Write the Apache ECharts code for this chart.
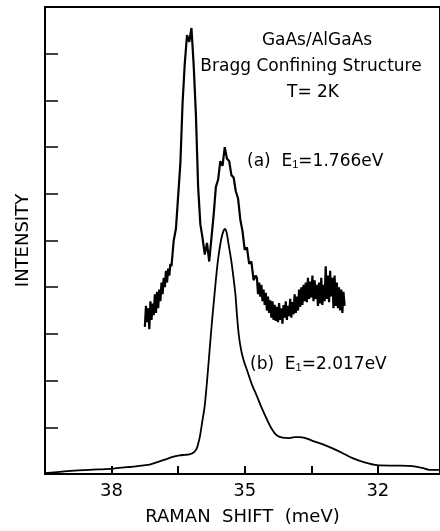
<!DOCTYPE html>
<html>
<head>
<meta charset="utf-8">
<script src="https://cdn.jsdelivr.net/npm/echarts@6/dist/echarts.min.js"></script>
<style>
  html, body { margin: 0; padding: 0; background: #fff; }
  #chart { width: 440px; height: 531px; }
</style>
</head>
<body>
<div id="chart"></div>
<script>
// 坐标轴刻度（meV）
const xTicks = [38, 36.5, 35, 33.5, 32];
const xLabels = [38, 35, 32];

// (a) E1 = 1.766 eV —— 噪声较大的谱线 [拉曼位移, 强度]
const shiftA = [
  37.250, 37.225, 37.200, 37.175, 37.150, 37.125, 37.100, 37.075, 37.050, 37.025,
  37.000, 36.975, 36.950, 36.925, 36.900, 36.875, 36.850, 36.825, 36.800, 36.775,
  36.750, 36.725, 36.700, 36.675, 36.650,
  36.60, 36.55, 36.50, 36.45, 36.40, 36.35, 36.30, 36.25, 36.20, 36.15,
  36.10, 36.05, 36.00, 35.95, 35.90, 35.85, 35.80, 35.75, 35.70, 35.65,
  35.60, 35.55, 35.50, 35.45, 35.40, 35.35, 35.30, 35.25, 35.20, 35.15,
  35.10, 35.05, 35.00, 34.95, 34.90, 34.85, 34.80, 34.75,
  34.725, 34.700, 34.675, 34.650, 34.625, 34.600, 34.575, 34.550, 34.525, 34.500,
  34.475, 34.450, 34.425, 34.400, 34.375, 34.350, 34.325, 34.300, 34.275, 34.250,
  34.225, 34.200, 34.175, 34.150, 34.125, 34.100, 34.075, 34.050, 34.025, 34.000,
  33.975, 33.950, 33.925, 33.900, 33.875, 33.850, 33.825, 33.800, 33.775, 33.750,
  33.725, 33.700, 33.675, 33.650, 33.625, 33.600, 33.575, 33.550, 33.525, 33.500,
  33.475, 33.450, 33.425, 33.400, 33.375, 33.350, 33.325, 33.300, 33.275, 33.250,
  33.225, 33.200, 33.175, 33.150, 33.125, 33.100, 33.075, 33.050, 33.025, 33.000,
  32.975, 32.950, 32.925, 32.900, 32.875, 32.850, 32.825, 32.800, 32.775, 32.750
];
const intensityA = [
  3.15, 3.60, 3.25, 3.55, 3.10, 3.70, 3.30, 3.65, 3.40, 3.85,
  3.45, 3.90, 3.55, 3.95, 3.70, 4.10, 3.85, 4.20, 4.00, 4.35,
  4.10, 4.40, 4.25, 4.50, 4.45,
  5.00, 5.25, 5.95, 6.65, 7.95, 8.80, 9.40, 9.25, 9.55, 8.75,
  7.70, 6.15, 5.35, 5.05, 4.70, 4.95, 4.55, 5.05, 5.55, 6.15,
  6.30, 6.70, 6.60, 7.00, 6.75, 6.70, 6.40, 6.35, 6.05, 5.90,
  5.45, 5.20, 4.80, 4.85, 4.50, 4.55, 4.15, 4.25,
  4.20, 3.85, 4.10, 3.80, 4.05, 3.70, 3.95, 3.62, 3.88, 3.50,
  3.80, 3.45, 3.72, 3.35, 3.70, 3.30, 3.62, 3.28, 3.58, 3.25,
  3.66, 3.30, 3.55, 3.22, 3.62, 3.35, 3.70, 3.30, 3.60, 3.38,
  3.75, 3.35, 3.68, 3.42, 3.85, 3.45, 3.80, 3.50, 3.95, 3.58,
  4.00, 3.62, 4.05, 3.70, 4.10, 3.68, 4.20, 3.75, 4.12, 3.78,
  4.25, 3.70, 4.15, 3.75, 4.05, 3.60, 4.10, 3.65, 4.20, 3.62,
  4.05, 3.70, 4.45, 3.75, 4.25, 3.68, 4.35, 3.80, 4.20, 3.55,
  4.25, 3.60, 4.10, 3.55, 4.00, 3.50, 3.95, 3.45, 3.90, 3.60
];

// (b) E1 = 2.017 eV —— 平滑谱线
const shiftB = [
  39.50, 39.00, 38.50, 38.02, 37.60, 37.14, 36.95, 36.76, 36.60, 36.47,
  36.35, 36.25, 36.15, 36.08, 36.04, 36.01, 35.96, 35.90, 35.83, 35.77,
  35.72, 35.68, 35.63, 35.59, 35.55, 35.52, 35.48, 35.45, 35.41, 35.36,
  35.30, 35.25, 35.21, 35.17, 35.13, 35.08, 35.02, 34.94, 34.84, 34.73,
  34.62, 34.51, 34.40, 34.28, 34.15, 33.99, 33.88, 33.77, 33.63, 33.50,
  33.25, 33.02, 32.80, 32.57, 32.30, 32.01, 31.60, 31.22, 31.00, 30.84,
  30.60
];
const intensityB = [
  0.02, 0.06, 0.09, 0.11, 0.15, 0.20, 0.26, 0.32, 0.37, 0.40,
  0.41, 0.42, 0.46, 0.55, 0.68, 0.80, 1.10, 1.47, 2.20, 2.90,
  3.45, 3.85, 4.35, 4.67, 4.92, 5.07, 5.20, 5.25, 5.18, 4.90,
  4.55, 4.18, 3.85, 3.35, 2.95, 2.65, 2.42, 2.20, 1.92, 1.68,
  1.42, 1.19, 0.98, 0.83, 0.78, 0.77, 0.79, 0.79, 0.77, 0.72,
  0.64, 0.55, 0.45, 0.34, 0.25, 0.19, 0.18, 0.17, 0.13, 0.09,
  0.09
];

const zip = (xs, ys) => xs.map((x, i) => [x, ys[i]]);
const FONT = 'DejaVu Sans';

function titleLine(text, x, y) {
  return {
    type: 'text', x: x, y: y,
    style: { text: text, textAlign: 'center', textVerticalAlign: 'middle', font: '17px "DejaVu Sans"', fill: '#000' }
  };
}

const chart = echarts.init(document.getElementById('chart'));

chart.setOption({
  animation: false,
  backgroundColor: '#fff',
  grid: {
    left: 45,
    top: 7,
    width: 398,
    height: 469,
    show: true,
    borderColor: '#000',
    borderWidth: 2,
    backgroundColor: 'transparent'
  },
  xAxis: {
    type: 'value',
    inverse: true,
    min: 30.6,
    max: 39.5,
    name: 'RAMAN  SHIFT  (meV)',
    nameLocation: 'middle',
    nameGap: 34,
    nameTextStyle: { fontFamily: FONT, fontSize: 18, color: '#000' },
    axisLine: { lineStyle: { color: '#000', width: 2 } },
    axisTick: { inside: true, length: 8, customValues: xTicks, lineStyle: { color: '#000', width: 2 } },
    axisLabel: { customValues: xLabels, margin: 8, fontFamily: FONT, fontSize: 18, color: '#000' },
    splitLine: { show: false }
  },
  yAxis: {
    type: 'value',
    min: 0,
    max: 10,
    interval: 1,
    name: 'INTENSITY',
    nameLocation: 'middle',
    nameGap: 13,
    nameTextStyle: { fontFamily: FONT, fontSize: 18, color: '#000' },
    axisLine: { show: true, lineStyle: { color: '#000', width: 2 } },
    axisTick: { show: true, inside: true, length: 13, lineStyle: { color: '#000', width: 1.5 } },
    axisLabel: { show: false },
    splitLine: { show: false }
  },
  graphic: [
    titleLine('GaAs/AlGaAs', 317, 41),
    titleLine('Bragg Confining Structure', 311, 67),
    titleLine('T= 2K', 313, 93),
    {
      type: 'text', left: 247, top: 153,
      style: {
        text: '(a)  E{s|1}=1.766eV',
        rich: { s: { fontSize: 11, verticalAlign: 'bottom', padding: [6, 0, 0, 0] } },
        font: '17px "DejaVu Sans"', fill: '#000'
      }
    },
    {
      type: 'text', left: 250, top: 356,
      style: {
        text: '(b)  E{s|1}=2.017eV',
        rich: { s: { fontSize: 11, verticalAlign: 'bottom', padding: [6, 0, 0, 0] } },
        font: '17px "DejaVu Sans"', fill: '#000'
      }
    }
  ],
  series: [
    {
      name: '(a)',
      type: 'line',
      data: zip(shiftA, intensityA),
      showSymbol: false,
      lineStyle: { color: '#000', width: 2.2 }
    },
    {
      name: '(b)',
      type: 'line',
      data: zip(shiftB, intensityB),
      showSymbol: false,
      smooth: 0.25,
      lineStyle: { color: '#000', width: 1.8 }
    }
  ]
});
</script>
</body>
</html>
